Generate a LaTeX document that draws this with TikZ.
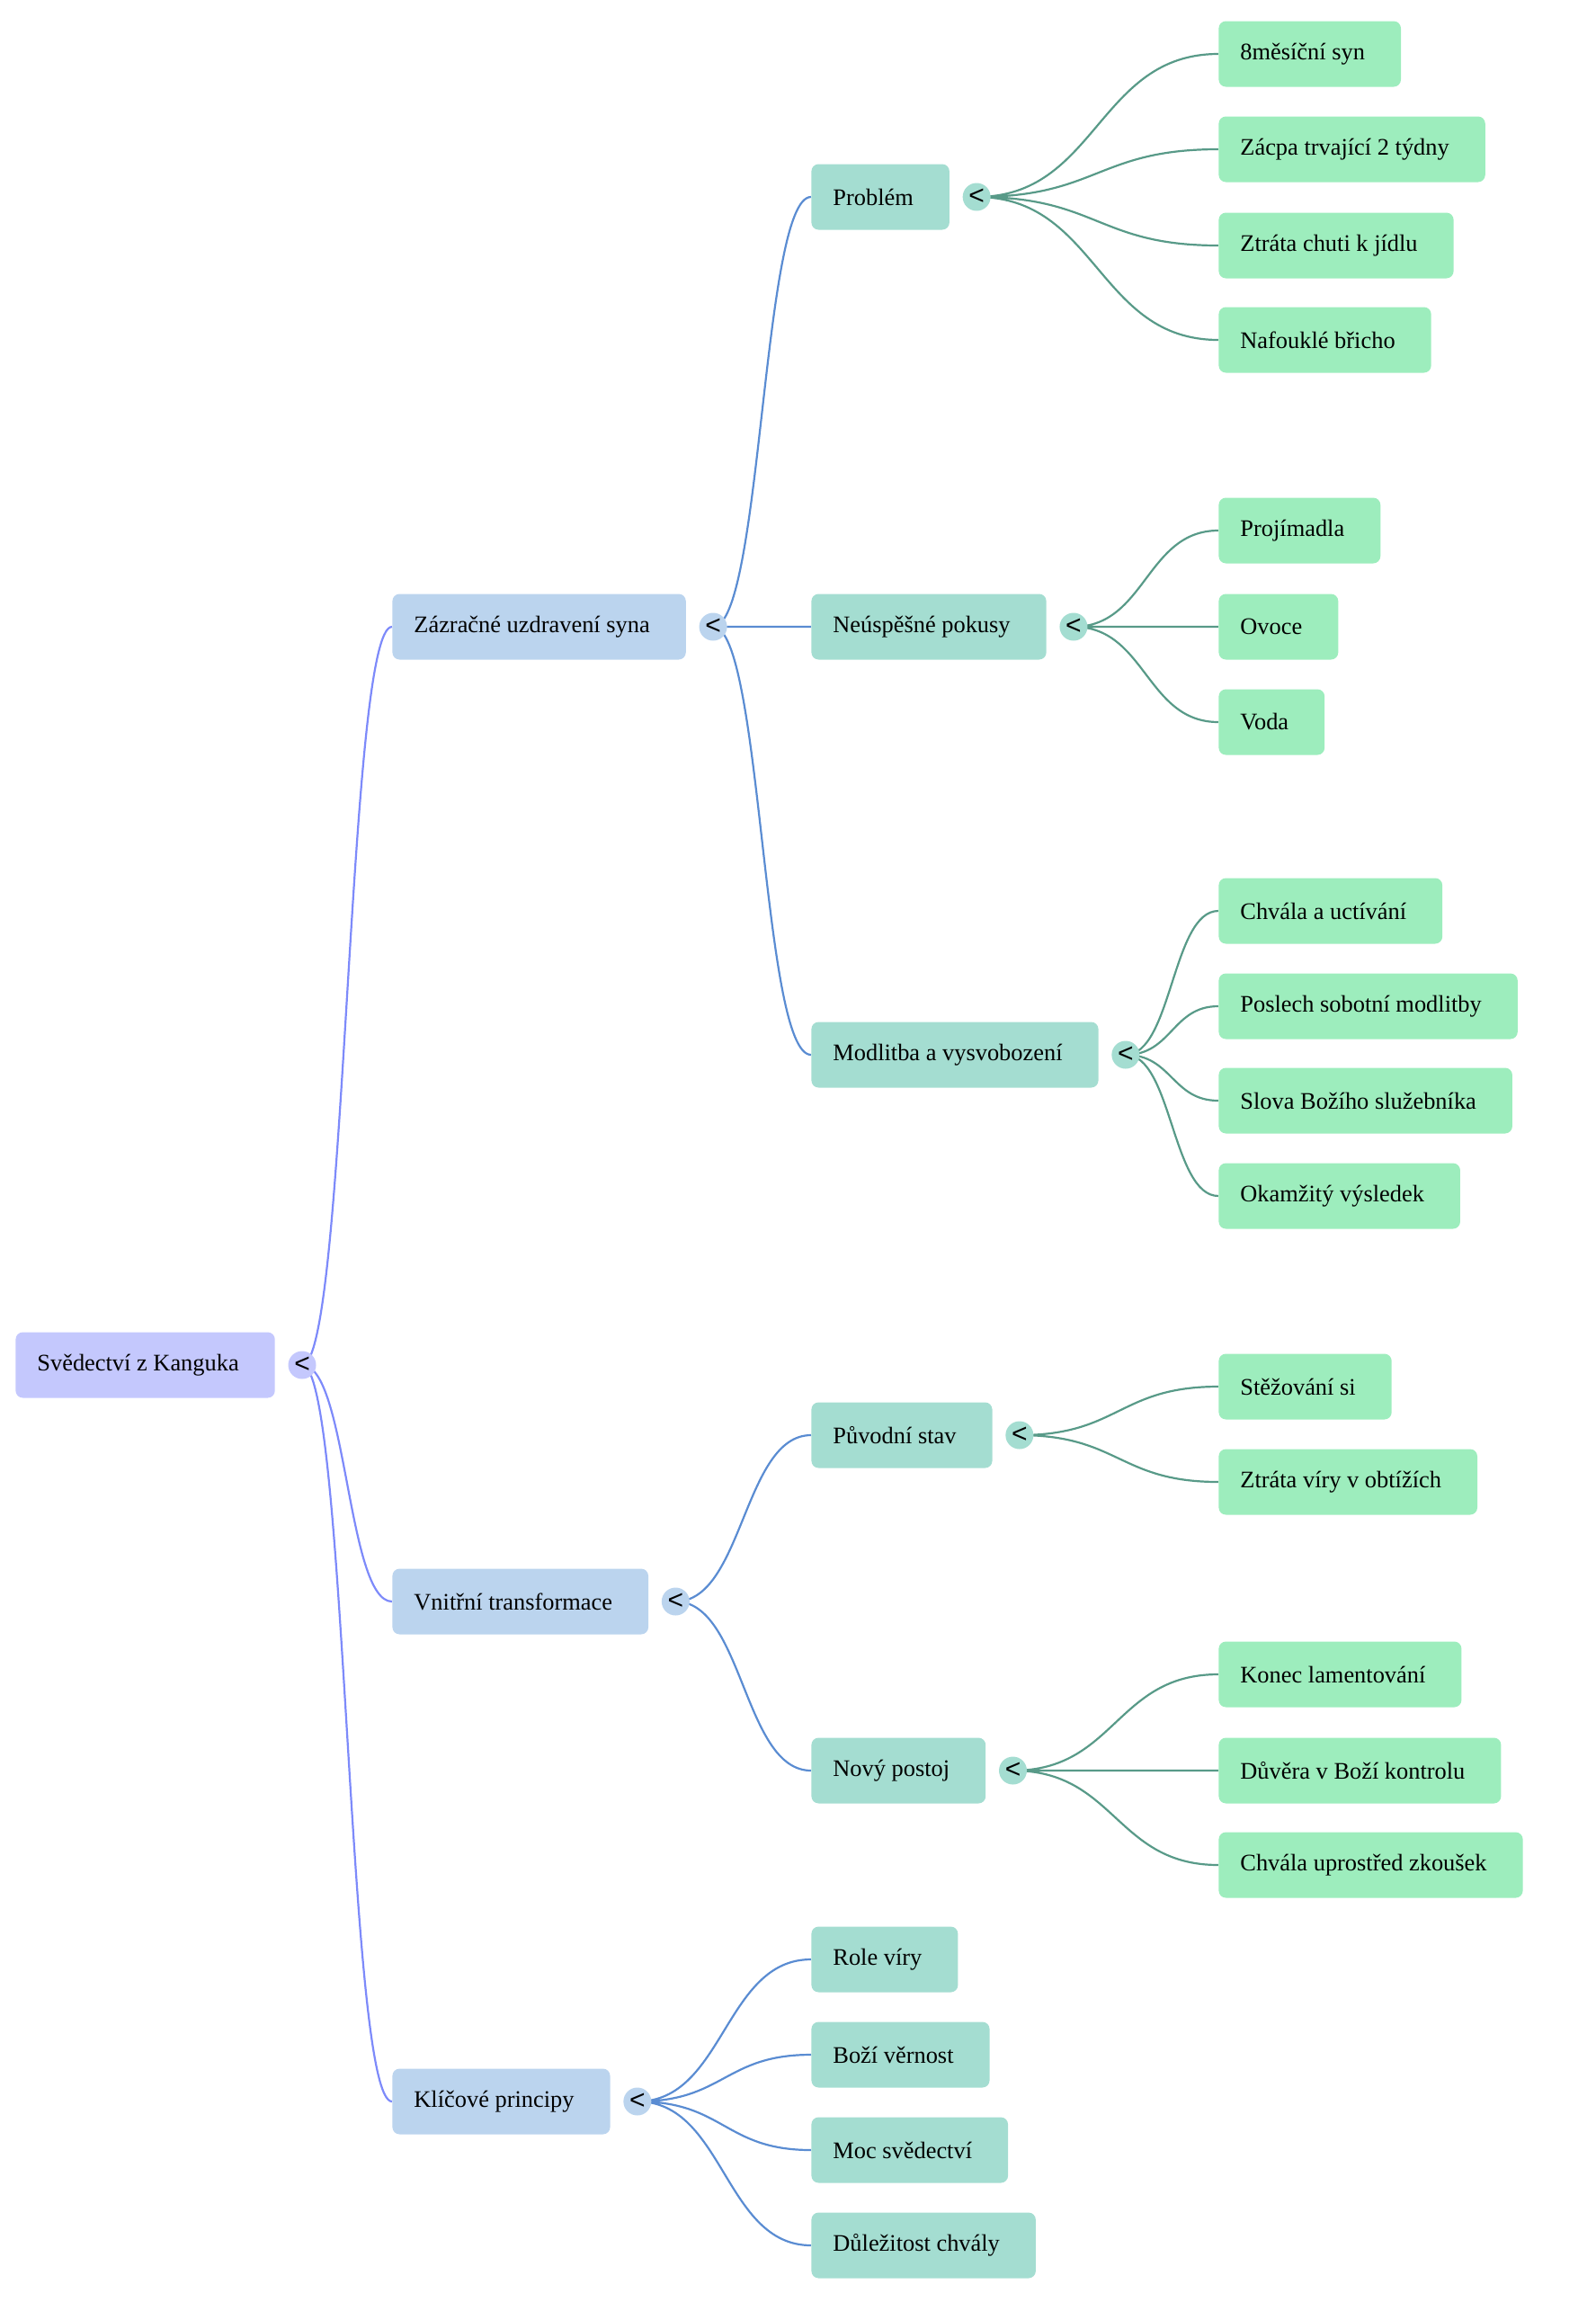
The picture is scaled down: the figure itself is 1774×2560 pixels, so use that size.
\documentclass[tikz,border=0pt]{standalone}
\usepackage{fontspec}
\setmainfont{Liberation Serif}
\setsansfont{Liberation Sans}
\usetikzlibrary{positioning, calc, backgrounds}

\definecolor{rootfill}{HTML}{C4C8FD}
\definecolor{midfill}{HTML}{BBD4EE}
\definecolor{topicfill}{HTML}{A4DDD1}
\definecolor{leaffill}{HTML}{9DEDBD}
\definecolor{rootline}{HTML}{7D8AFA}
\definecolor{midline}{HTML}{5A8CD2}
\definecolor{topicline}{HTML}{589A88}

\tikzset{
  box/.style={rounded corners=4pt, anchor=west, minimum height=36.5pt, inner xsep=12pt, inner ysep=0pt,
    font=\fontsize{13.2}{16}\selectfont, execute at end node={\hspace*{8pt}}},
  toggle/.style={circle, minimum size=15.5pt, inner sep=0pt, font=\sffamily\fontsize{15}{15}\selectfont},
  branch/.style={to path={let \p1=(\tikztostart), \p2=(\tikztotarget) in
    .. controls ({(\x1+\x2)/2},\y1) and ({(\x1+\x2)/2},\y2) .. (\tikztotarget)}},
  link/.style={line width=1.1pt}
}

\begin{document}
\begin{tikzpicture}[x=0.5pt, y=-0.5pt]
	\useasboundingbox (0,0) rectangle (1774,2560);

	% root
	\node[box, fill=rootfill] (root) at (17,1518) {Svědectví z Kanguka};
	\node[toggle, fill=rootfill, right=7pt of root] (t0) {<};

	% first level
	\node[box, fill=midfill] (uzdr) at (436,697) {Zázračné uzdravení syna};
	\node[box, fill=midfill] (trans) at (436,1781) {Vnitřní transformace};
	\node[box, fill=midfill] (princ) at (436,2337) {Klíčové principy};
	\node[toggle, fill=midfill, right=7pt of uzdr] (t1) {<};
	\node[toggle, fill=midfill, right=7pt of trans] (t2) {<};
	\node[toggle, fill=midfill, right=7pt of princ] (t3) {<};

	% second level
	\node[box, fill=topicfill] (probl) at (902,219) {Problém};
	\node[box, fill=topicfill] (pokusy) at (902,697) {Neúspěšné pokusy};
	\node[box, fill=topicfill] (modl) at (902,1173) {Modlitba a vysvobození};
	\node[box, fill=topicfill] (puvod) at (902,1596) {Původní stav};
	\node[box, fill=topicfill] (novy) at (902,1969) {Nový postoj};
	\node[box, fill=topicfill] (role) at (902,2179) {Role víry};
	\node[box, fill=topicfill] (vern) at (902,2285) {Boží věrnost};
	\node[box, fill=topicfill] (moc) at (902,2391) {Moc svědectví};
	\node[box, fill=topicfill] (chval) at (902,2497) {Důležitost chvály};
	\node[toggle, fill=topicfill, right=7pt of probl] (tp) {<};
	\node[toggle, fill=topicfill, right=7pt of pokusy] (tk) {<};
	\node[toggle, fill=topicfill, right=7pt of modl] (tm) {<};
	\node[toggle, fill=topicfill, right=7pt of puvod] (ts) {<};
	\node[toggle, fill=topicfill, right=7pt of novy] (tn) {<};

	% leaves
	\node[box, fill=leaffill] (p1) at (1355,60) {8měsíční syn};
	\node[box, fill=leaffill] (p2) at (1355,166) {Zácpa trvající 2 týdny};
	\node[box, fill=leaffill] (p3) at (1355,273) {Ztráta chuti k jídlu};
	\node[box, fill=leaffill] (p4) at (1355,378) {Nafouklé břicho};
	\node[box, fill=leaffill] (k1) at (1355,590) {Projímadla};
	\node[box, fill=leaffill] (k2) at (1355,697) {Ovoce};
	\node[box, fill=leaffill] (k3) at (1355,803) {Voda};
	\node[box, fill=leaffill] (m1) at (1355,1013) {Chvála a uctívání};
	\node[box, fill=leaffill] (m2) at (1355,1119) {Poslech sobotní modlitby};
	\node[box, fill=leaffill] (m3) at (1355,1224) {Slova Božího služebníka};
	\node[box, fill=leaffill] (m4) at (1355,1330) {Okamžitý výsledek};
	\node[box, fill=leaffill] (s1) at (1355,1542) {Stěžování si};
	\node[box, fill=leaffill] (s2) at (1355,1648) {Ztráta víry v obtížích};
	\node[box, fill=leaffill] (n1) at (1355,1862) {Konec lamentování};
	\node[box, fill=leaffill] (n2) at (1355,1969) {Důvěra v Boží kontrolu};
	\node[box, fill=leaffill] (n3) at (1355,2074) {Chvála uprostřed zkoušek};

	\begin{scope}[on background layer]
		\draw[link, rootline]
		(t0.center) to[branch] (uzdr.west)
		(t0.center) to[branch] (trans.west)
		(t0.center) to[branch] (princ.west);
		\draw[link, midline]
		(t1.center) to[branch] (probl.west)
		(t1.center) to[branch] (pokusy.west)
		(t1.center) to[branch] (modl.west)
		(t2.center) to[branch] (puvod.west)
		(t2.center) to[branch] (novy.west)
		(t3.center) to[branch] (role.west)
		(t3.center) to[branch] (vern.west)
		(t3.center) to[branch] (moc.west)
		(t3.center) to[branch] (chval.west);
		\draw[link, topicline]
		(tp.center) to[branch] (p1.west)
		(tp.center) to[branch] (p2.west)
		(tp.center) to[branch] (p3.west)
		(tp.center) to[branch] (p4.west)
		(tk.center) to[branch] (k1.west)
		(tk.center) to[branch] (k2.west)
		(tk.center) to[branch] (k3.west)
		(tm.center) to[branch] (m1.west)
		(tm.center) to[branch] (m2.west)
		(tm.center) to[branch] (m3.west)
		(tm.center) to[branch] (m4.west)
		(ts.center) to[branch] (s1.west)
		(ts.center) to[branch] (s2.west)
		(tn.center) to[branch] (n1.west)
		(tn.center) to[branch] (n2.west)
		(tn.center) to[branch] (n3.west);
	\end{scope}
\end{tikzpicture}
\end{document}
